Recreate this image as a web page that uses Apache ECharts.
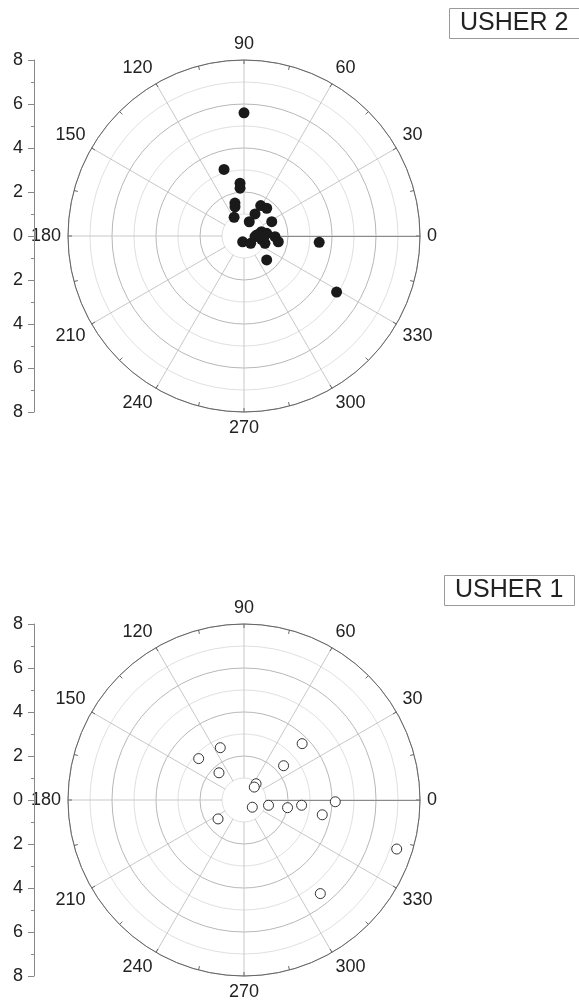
<!DOCTYPE html>
<html>
<head>
<meta charset="utf-8">
<script src="https://cdn.jsdelivr.net/npm/echarts@6/dist/echarts.min.js"></script>
<style>
html,body{margin:0;padding:0;background:#fff;}
#chart{width:579px;height:1001px;}
</style>
</head>
<body>
<div id="chart"></div>
<script>
// ---- Data (radius, angle in degrees) ----
const usher2R     = [5.6, 3.16, 2.41, 2.18, 1.55, 1.39, 0.96, 1.58, 1.63, 1.12, 0.69, 1.42, 0.27, 0.45, 0.50, 0.58, 0.82, 1.04, 0.81, 1.01, 1.41, 1.58, 1.50, 3.43, 4.92, 0.68, 0.90];
const usher2Theta = [90, 106.7, 94.3, 94.7, 105.4, 107.1, 117.9, 61.2, 50.7, 63.4, 69.7, 27.3, 257, 312.3, 356.6, 4.9, 14, 6.6, 349.4, 340.8, 358.8, 350.5, 313.4, 355.2, 328.8, 6.7, 356.8];
const usher1R     = [2.61, 2.79, 1.68, 3.68, 2.38, 0.92, 0.75, 0.50, 1.14, 2.01, 2.63, 4.15, 3.62, 1.46, 7.29, 5.49];
const usher1Theta = [114.4, 137.6, 132.6, 44.1, 40.9, 53.4, 51.5, 319, 347.8, 350, 354.8, 358.9, 349.3, 216.1, 342.2, 309.2];
const panelNames  = ['USHER 2', 'USHER 1'];
const angleTicks  = [0, 30, 60, 90, 120, 150, 180, 210, 240, 270, 300, 330];
const radiusMax   = 8;

const FONT = 'Liberation Sans, Arial, sans-serif';
const chart = echarts.init(document.getElementById('chart'), null, {renderer: 'canvas'});

const panels = [
  {cy: 236, name: panelNames[0], boxX: 449, boxY: 8, r: usher2R, t: usher2Theta, filled: true},
  {cy: 800, name: panelNames[1], boxX: 444, boxY: 575, r: usher1R, t: usher1Theta, filled: false}
];
const CX = 244, R = 176, R0 = 22;

const polar = [], angleAxis = [], radiusAxis = [], grid = [], xAxis = [], yAxis = [], series = [], title = [];

panels.forEach((p, i) => {
  polar.push({center: [CX, p.cy], radius: [R0, R]});
  angleAxis.push({
    polarIndex: 2 * i, type: 'value', min: 0, max: 360, interval: 30,
    startAngle: 0, clockwise: false,
    axisLine: {show: false}, axisTick: {show: false}, axisLabel: {show: false},
    splitLine: {show: true, lineStyle: {color: '#c8c8c8', width: 1}}
  });
  radiusAxis.push({
    polarIndex: 2 * i, type: 'value', min: 0, max: 1,
    axisLine: {show: true, lineStyle: {color: '#8a8a8a', width: 1}},
    axisTick: {show: false}, axisLabel: {show: false}, splitLine: {show: false}
  });
  polar.push({center: [CX, p.cy], radius: [0, R]});
  angleAxis.push({
    polarIndex: 2 * i + 1, type: 'value', min: 0, max: 360, interval: 30,
    startAngle: 0, clockwise: false,
    axisLine: {show: true, lineStyle: {color: '#666', width: 1}},
    axisTick: {show: true, inside: true, length: 4, lineStyle: {color: '#666'}},
    minorTick: {show: true, splitNumber: 2, length: 4, lineStyle: {color: '#666'}},
    axisLabel: {
      show: true, margin: 7, fontSize: 18, color: '#222', fontFamily: FONT,
      align: 'center', verticalAlign: 'middle',
      formatter: v => (angleTicks.indexOf(v) >= 0 ? String(v) : '')
    },
    splitLine: {show: false}
  });
  radiusAxis.push({
    polarIndex: 2 * i + 1, type: 'value', min: 0, max: radiusMax, interval: 1,
    axisLine: {show: false}, axisTick: {show: false}, axisLabel: {show: false},
    splitLine: {show: true, lineStyle: {color: ['#b8b8b8', '#e0e0e0'], width: 1}}
  });
  grid.push({left: 34, top: p.cy - R, width: 1, height: 2 * R});
  xAxis.push({gridIndex: i, type: 'value', min: 0, max: 1, show: false});
  yAxis.push({
    gridIndex: i, type: 'value', min: -radiusMax, max: radiusMax, interval: 2,
    axisLine: {show: true, lineStyle: {color: '#888', width: 1}},
    axisTick: {show: true, length: 6, lineStyle: {color: '#888'}},
    minorTick: {show: true, splitNumber: 2, length: 3, lineStyle: {color: '#888'}},
    axisLabel: {margin: 11, fontSize: 18, color: '#222', fontFamily: FONT, formatter: v => String(Math.abs(v))},
    splitLine: {show: false}
  });
  series.push({
    type: 'scatter', coordinateSystem: 'polar', polarIndex: 2 * i + 1,
    symbol: 'circle', symbolSize: p.filled ? 11 : 10,
    itemStyle: p.filled ? {color: '#1a1a1a', opacity: 1} : {color: '#fff', borderColor: '#333', borderWidth: 1, opacity: 1},
    data: p.r.map((rv, k) => [rv, p.t[k]]),
    z: 5
  });
  title.push({
    text: p.name, left: p.boxX, top: p.boxY,
    padding: [2, 11, 2, 11],
    borderColor: '#9a9a9a', borderWidth: 1,
    textStyle: {fontSize: 25, fontWeight: 'normal', color: '#222', fontFamily: FONT, lineHeight: 27}
  });
});

chart.setOption({
  animation: false,
  backgroundColor: '#fff',
  title, polar, angleAxis, radiusAxis, grid, xAxis, yAxis, series
});
</script>
</body>
</html>
